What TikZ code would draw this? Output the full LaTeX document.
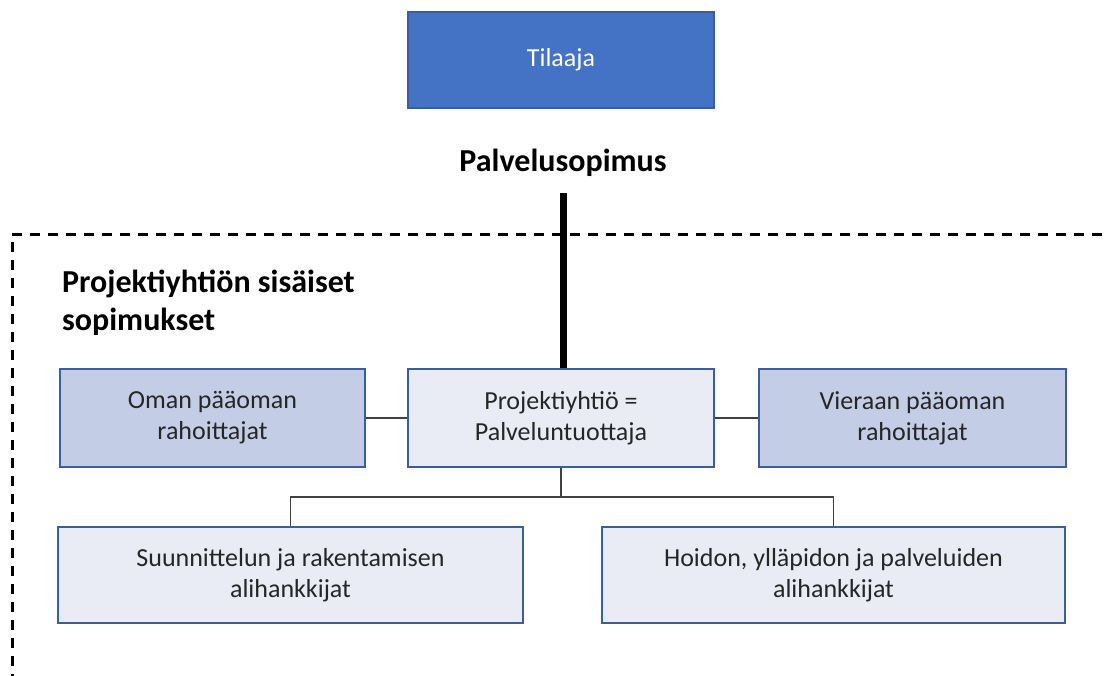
\documentclass[tikz,border=0pt]{standalone}
\usepackage{fontspec}
\setmainfont{Carlito}
\begin{document}
\begin{tikzpicture}[x=1pt,y=-1pt,
  box/.style={draw=boxedge, line width=2pt, inner sep=0pt, align=center,
    font=\fontsize{26}{31}\selectfont, text=textgray},
  client/.style={box, fill=clientblue, text=white},
  core/.style={box, fill=lightfill},
  funder/.style={box, fill=midfill},
  link/.style={draw=linegray, line width=1.6pt},
  heading/.style={font=\fontsize{32}{38}\selectfont\bfseries, text=black, inner sep=0pt}
]
\definecolor{clientblue}{HTML}{4472C4}
\definecolor{boxedge}{HTML}{3A5E9E}
\definecolor{lightfill}{HTML}{E9EBF5}
\definecolor{midfill}{HTML}{C4CDE6}
\definecolor{linegray}{HTML}{404040}
\definecolor{textgray}{HTML}{262626}

\useasboundingbox (0,0) rectangle (1110,675);

% client and the service agreement
\node[client, minimum width=306, minimum height=96] (tilaaja) at (561,60) {Tilaaja};
\node[heading] (sopimus) at (563,163) {Palvelusopimus};

% boundary of the project company's internal agreements
\begin{scope}
\clip (0,0) rectangle (1110,675);
\draw[line width=3pt, dash pattern=on 10pt off 8pt] (1120,234) -- (12,234) -- (12,690);
\end{scope}
\node[heading, anchor=north west, align=left] (sisaiset) at (62,270)
  {Projektiyhtiön sisäiset\\sopimukset};

% parties
\node[core, minimum width=306, minimum height=98] (proj) at (561,418)
  {Projektiyhtiö =\\Palveluntuottaja};
\node[funder, minimum width=305, minimum height=98] (oman) at (212.5,418)
  {Oman pääoman\\rahoittajat};
\node[funder, minimum width=307, minimum height=98] (vieraan) at (912.5,418)
  {Vieraan pääoman\\rahoittajat};
\node[core, minimum width=465, minimum height=96] (suun) at (290.5,575)
  {Suunnittelun ja rakentamisen\\alihankkijat};
\node[core, minimum width=463, minimum height=96] (hoidon) at (833.5,575)
  {Hoidon, ylläpidon ja palveluiden\\alihankkijat};

% connectors
\coordinate (sopimusend) at (563,193);
\draw[line width=7pt] (sopimusend) -- (sopimusend |- proj.north);
\draw[link] (oman.east) -- (proj.west);
\draw[link] (proj.east) -- (vieraan.west);
\coordinate (split) at (561,497);
\draw[link] (proj.south) -- (split);
\draw[link] (split) -| (suun.north);
\draw[link] (split) -| (hoidon.north);
\end{tikzpicture}
\end{document}
